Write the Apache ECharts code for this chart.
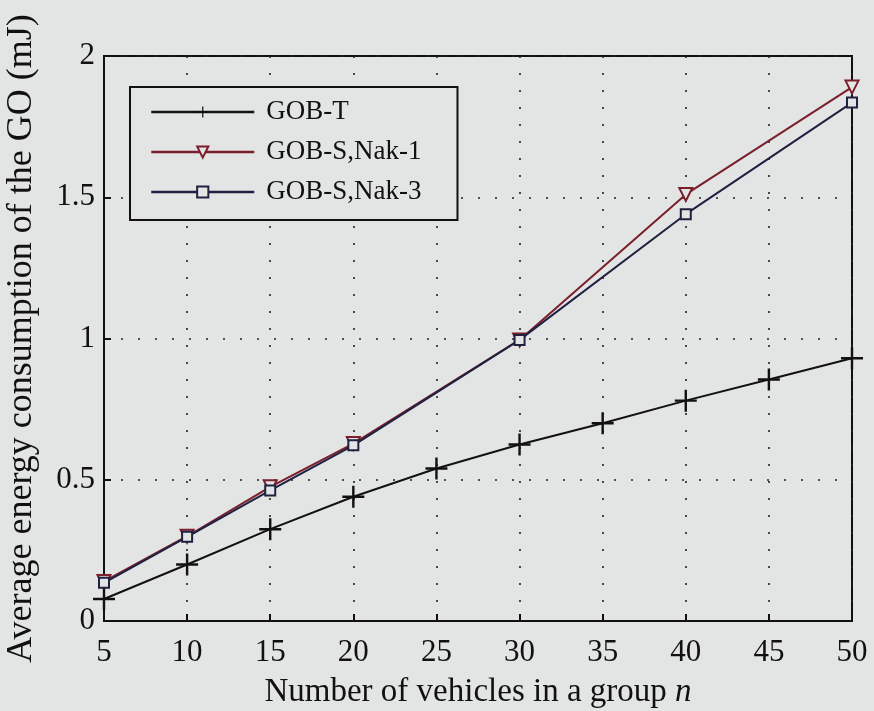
<!DOCTYPE html>
<html>
<head>
<meta charset="utf-8">
<script src="https://cdn.jsdelivr.net/npm/echarts@6/dist/echarts.min.js"></script>
<style>
html,body{margin:0;padding:0;background:#e3e5e4;}
#c{width:874px;height:711px;}
</style>
</head>
<body>
<div id="c"></div>
<script>
const seriesNames = ['GOB-T', 'GOB-S,Nak-1', 'GOB-S,Nak-3'];
const xT = [5, 10, 15, 20, 25, 30, 35, 40, 45, 50];
const gobT = [0.078, 0.20, 0.325, 0.44, 0.54, 0.625, 0.70, 0.78, 0.855, 0.93];
const xS = [5, 10, 15, 20, 30, 40, 50];
const nak1 = [0.14, 0.30, 0.475, 0.628, 0.995, 1.51, 1.89];
const nak3 = [0.135, 0.298, 0.462, 0.622, 0.995, 1.44, 1.835];
const xTicks = [5, 10, 15, 20, 25, 30, 35, 40, 45, 50];
const yTicks = [0, 0.5, 1, 1.5, 2];

const BG = '#e3e5e4';
const RED = '#7a1f2b';
const NAVY = '#1f2142';
const FONT = '"Liberation Serif", "DejaVu Serif", serif';

const pair = (xs, ys) => xs.map((x, i) => [x, ys[i]]);
const plusPath = 'path://M8.9,0h2.2v20h-2.2z M0,8.9h20v2.2h-20z';

const chart = echarts.init(document.getElementById('c'));
chart.setOption({
  backgroundColor: BG,
  animation: false,
  textStyle: { fontFamily: FONT, color: '#111' },
  grid: {
    left: 104, top: 56, right: 22, bottom: 90,
    containLabel: false, outerBoundsMode: 'none',
    show: true, borderColor: '#111', borderWidth: 2, backgroundColor: 'transparent'
  },
  legend: {
    orient: 'vertical',
    left: 130, top: 87,
    backgroundColor: BG,
    borderColor: '#111', borderWidth: 2,
    padding: [10, 36, 13, 20],
    itemWidth: 103, itemHeight: 14, itemGap: 10,
    lineStyle: { width: 2.5 },
    textStyle: { fontFamily: FONT, fontSize: 27, color: '#111', lineHeight: 30, padding: [0, 0, 0, 7] },
    data: seriesNames
  },
  xAxis: {
    type: 'value', min: 5, max: 50, interval: 5,
    axisLine: { lineStyle: { color: '#111', width: 2 } },
    axisTick: { inside: true, length: 7, lineStyle: { color: '#111', width: 2 } },
    axisLabel: {
      fontFamily: FONT, fontSize: 31, color: '#111', margin: 16,
      customValues: xTicks
    },
    splitLine: { show: true, lineStyle: { color: '#222', width: 1.6, type: [2, 15] } },
    name: '{a|Number of vehicles in a group }{b|n}',
    nameLocation: 'middle', nameGap: 55,
    nameTextStyle: {
      rich: {
        a: { fontFamily: FONT, fontSize: 33, color: '#111' },
        b: { fontFamily: FONT, fontSize: 33, color: '#111', fontStyle: 'italic' }
      }
    }
  },
  yAxis: {
    type: 'value', min: 0, max: 2, interval: 0.5,
    axisLine: { lineStyle: { color: '#111', width: 2 } },
    axisTick: { inside: true, length: 7, lineStyle: { color: '#111', width: 2 } },
    axisLabel: {
      fontFamily: FONT, fontSize: 31, color: '#111', margin: 9,
      formatter: v => String(v)
    },
    splitLine: { show: true, lineStyle: { color: '#222', width: 1.6, type: [2, 15] } },
    name: 'Average energy consumption of the GO (mJ)',
    nameLocation: 'middle', nameRotate: 90, nameGap: 64,
    nameTextStyle: { fontFamily: FONT, fontSize: 36, color: '#111' }
  },
  series: [
    {
      name: seriesNames[0], type: 'line', data: pair(xT, gobT),
      symbol: plusPath, symbolSize: 22,
      lineStyle: { color: '#111', width: 2 },
      itemStyle: { color: '#111' }, z: 3
    },
    {
      name: seriesNames[1], type: 'line', data: pair(xS, nak1),
      symbol: 'triangle', symbolRotate: 180, symbolSize: 13,
      lineStyle: { color: RED, width: 2 },
      itemStyle: { color: BG, borderColor: RED, borderWidth: 2 }, z: 2
    },
    {
      name: seriesNames[2], type: 'line', data: pair(xS, nak3),
      symbol: 'rect', symbolSize: 10,
      lineStyle: { color: NAVY, width: 2 },
      itemStyle: { color: BG, borderColor: NAVY, borderWidth: 2 }, z: 4
    }
  ]
});
</script>
</body>
</html>
